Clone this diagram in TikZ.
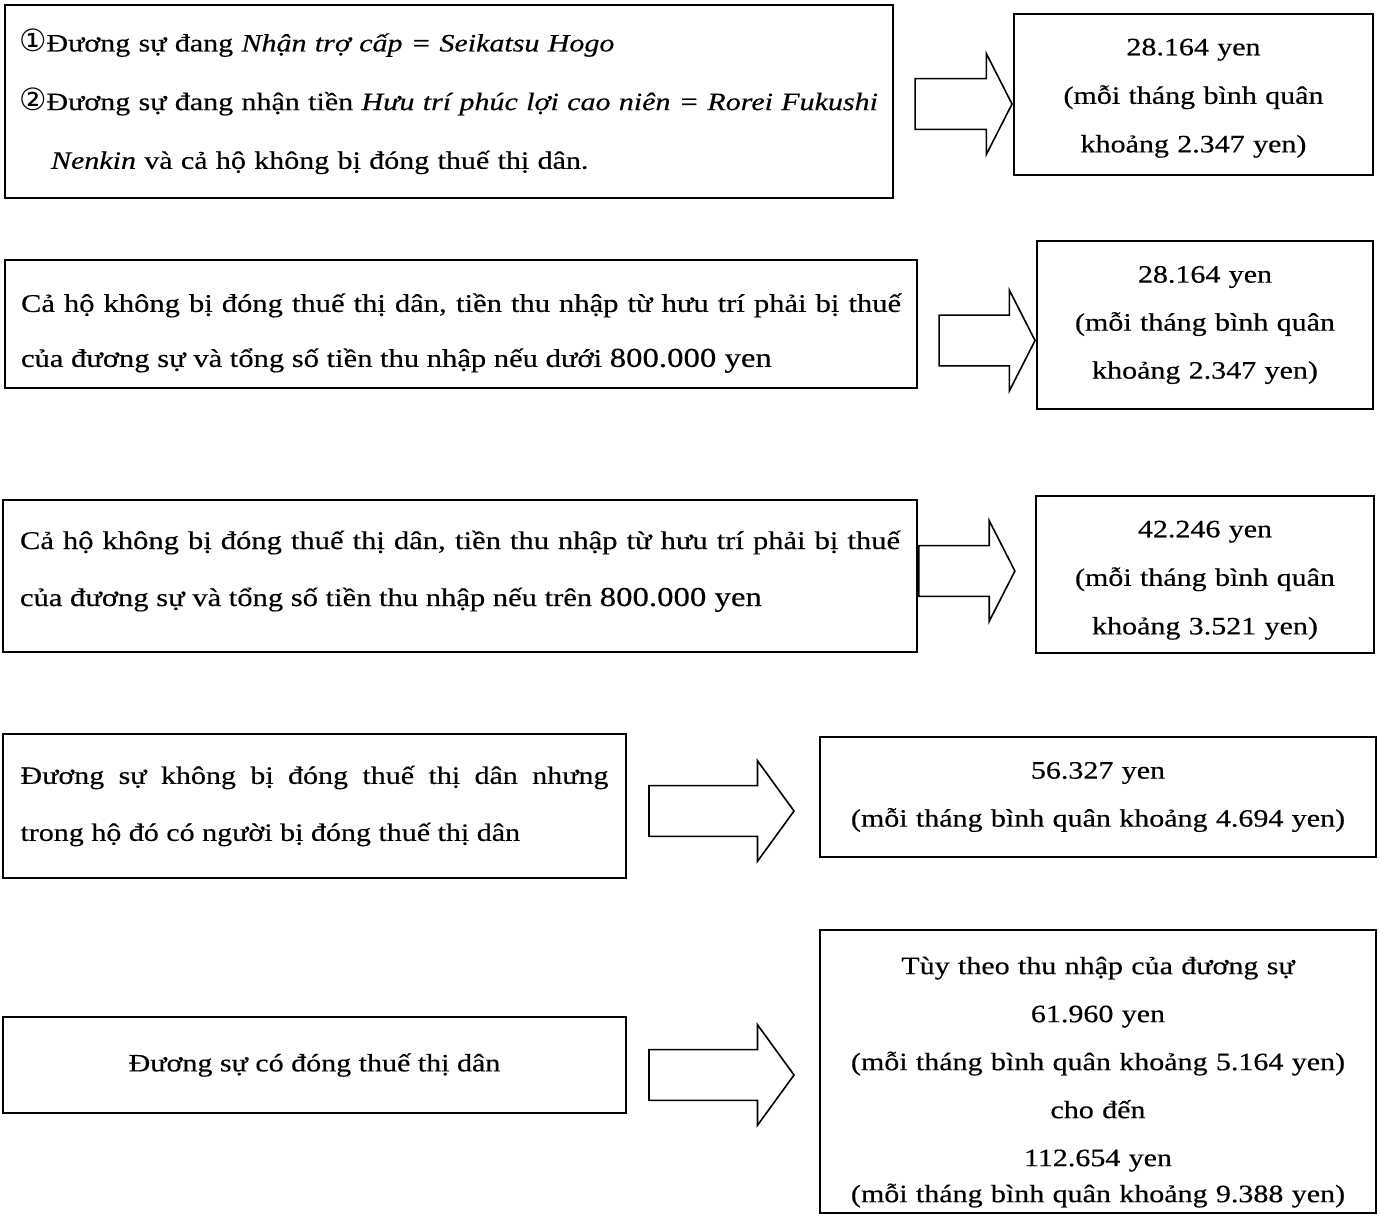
\documentclass[tikz,border=0pt]{standalone}
\usepackage{fontspec}
\setmainfont[FakeStretch=1.2, FakeBold=0.4]{Liberation Serif}
\newfontfamily\circfont{DejaVu Sans}
\usetikzlibrary{shapes.arrows, positioning}
\hyphenpenalty=10000
\tikzstyle{condition} = [rectangle, draw=black, line width=1.6pt, inner sep=0pt, font=\fontsize{18.75pt}{42.75pt}\selectfont]
\tikzstyle{result} = [rectangle, draw=black, line width=1.6pt, inner sep=0pt, align=center, font=\fontsize{18.75pt}{36.4pt}\selectfont]
\tikzstyle{bigarrow} = [single arrow, draw=black, line width=1.2pt, inner xsep=0pt, inner ysep=18.4pt, single arrow head extend=18.75pt, single arrow head indent=0pt, anchor=tip]
\newcommand{\circnum}[1]{{\circfont\fontsize{23pt}{23pt}\selectfont #1}}
% struts to move text inside a box: \topgap raises the first line, \botgap lowers the last
\newcommand{\topgap}[1]{\rule{0pt}{#1}}
\newcommand{\botgap}[1]{\rule[-#1]{0pt}{0pt}}

\begin{document}
\begin{tikzpicture}[x=0.75pt, y=-0.75pt]
\useasboundingbox (0,0) rectangle (1380,1215);

\node (cond1) [condition, minimum width=666pt, minimum height=144.75pt, text width=645pt, align=left, font=\fontsize{18.75pt}{44pt}\selectfont] at (449,101.5) {\circnum{①}Đương sự đang \textit{Nhận trợ cấp = Seikatsu Hogo}\\\circnum{②}Đương sự đang nhận tiền \textit{Hưu trí phúc lợi cao niên = Rorei Fukushi}\\\hspace*{24pt}\textit{Nenkin} và cả hộ không bị đóng thuế thị dân.};
\node (res1) [result, minimum width=269.25pt, minimum height=120.75pt, text width=250pt] at (1193.5,94.5) {\topgap{18pt}28.164 yen\\(mỗi tháng bình quân\\khoảng 2.347 yen)};
\node (arrA) [bigarrow, minimum height=72.75pt, single arrow tip angle=126] at (res1.west |- 0,104) {};

\node (cond2) [condition, minimum width=684pt, minimum height=96pt, text width=660pt, align=justify, font=\fontsize{19.1pt}{41.25pt}\selectfont] at (461,324) {\topgap{27.5pt}Cả hộ không bị đóng thuế thị dân, tiền thu nhập từ hưu trí phải bị thuế\linebreak của đương sự và tổng số tiền thu nhập nếu dưới {\fontsize{20.5pt}{41.25pt}\selectfont 800.000 yen}};
\node (res2) [result, minimum width=252pt, minimum height=126pt, text width=240pt, font=\fontsize{18.75pt}{36pt}\selectfont] at (1205,325) {28.164 yen\\(mỗi tháng bình quân\\khoảng 2.347 yen)};
\node (arrB) [bigarrow, minimum height=72pt, single arrow tip angle=126] at (res2.west |- 0,340.5) {};

\node (cond3) [condition, minimum width=685.5pt, minimum height=114pt, text width=660pt, align=justify, font=\fontsize{19.1pt}{42.75pt}\selectfont] at (460,576) {Cả hộ không bị đóng thuế thị dân, tiền thu nhập từ hưu trí phải bị thuế\linebreak của đương sự và tổng số tiền thu nhập nếu trên {\fontsize{20.5pt}{42.75pt}\selectfont 800.000 yen}\botgap{11.6pt}};
\node (res3) [result, minimum width=253.5pt, minimum height=117.75pt, text width=240pt] at (1205,574.5) {\topgap{21pt}42.246 yen\\(mỗi tháng bình quân\\khoảng 3.521 yen)};
\node (arrC) [bigarrow, minimum height=72pt, single arrow tip angle=126, anchor=tail] at (cond3.east |- 0,571) {};

\node (cond4) [condition, minimum width=467.25pt, minimum height=108pt, text width=441pt, align=justify] at (314.5,806) {Đương sự không bị đóng thuế thị dân nhưng\linebreak trong hộ đó có người bị đóng thuế thị dân};
\node (res4) [result, minimum width=417pt, minimum height=90pt, text width=400pt, font=\fontsize{18.75pt}{36pt}\selectfont] at (1098,797) {56.327 yen\\(mỗi tháng bình quân khoảng 4.694 yen)};
\node (arrD) [bigarrow, minimum height=108.75pt, single arrow tip angle=108] at (795,811) {};

\node (cond5) [condition, minimum width=467.25pt, minimum height=72pt, align=center] at (314.5,1065) {Đương sự có đóng thuế thị dân};
\node (res5) [result, minimum width=417pt, minimum height=212.25pt, text width=400pt, font=\fontsize{18.75pt}{36pt}\selectfont] at (1098,1071.5) {\topgap{29pt}Tùy theo thu nhập của đương sự\\61.960 yen\\(mỗi tháng bình quân khoảng 5.164 yen)\\cho đến\\112.654 yen\\[-9pt](mỗi tháng bình quân khoảng 9.388 yen)};
\node (arrE) [bigarrow, minimum height=108.75pt, single arrow tip angle=108] at (795,1075) {};

\end{tikzpicture}
\end{document}
